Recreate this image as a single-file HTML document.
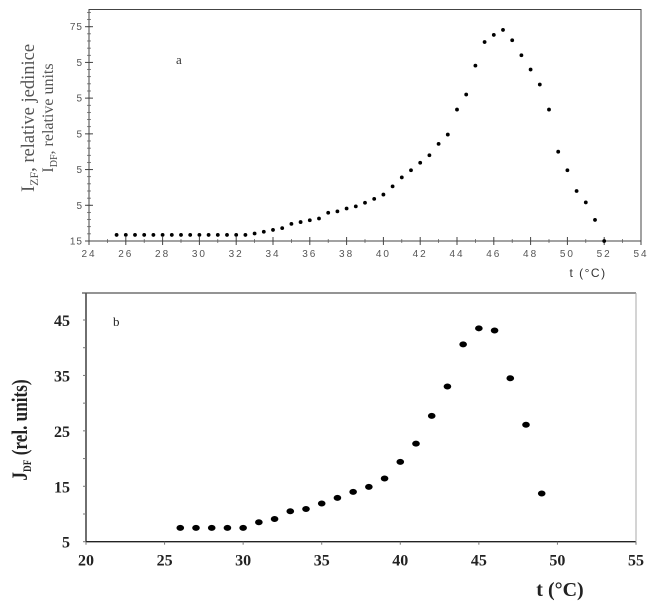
<!DOCTYPE html>
<html><head><meta charset="utf-8"><style>
html,body{margin:0;padding:0;background:#fff;width:650px;height:605px;overflow:hidden}
svg{display:block}
</style></head><body>
<svg id="chart" width="650" height="605" xmlns="http://www.w3.org/2000/svg">
<g id="top"></g>
<g id="bot"></g>
</svg>
<script>
// ---- Chart a data ----
const aTemps = [25.5,26,26.5,27,27.5,28,28.5,29,29.5,30,30.5,31,31.5,32,32.5,33,33.5,34,34.5,35,35.5,36,36.5,37,37.5,38,38.5,39,39.5,40,40.5,41,41.5,42,42.5,43,43.5,44,44.5,45,45.5,46,46.5,47,47.5,48,48.5,49,49.5,50,50.5,51,51.5,52];
const aValues = [16.7,16.7,16.7,16.7,16.7,16.7,16.7,16.7,16.7,16.7,16.7,16.7,16.7,16.7,16.7,17.1,17.6,18.1,18.6,19.8,20.3,20.8,21.3,22.9,23.3,24.1,24.7,25.7,26.8,28.0,30.3,32.8,34.8,36.9,39.0,42.2,44.8,51.8,56.0,64.1,70.7,72.7,74.1,71.2,67.0,63.0,58.8,51.8,40.0,34.8,29.0,25.8,20.9,15.0];
const aXTicks = [24,26,28,30,32,34,36,38,40,42,44,46,48,50,52,54];
const aYTicks = [15,25,35,45,55,65,75];
const aYLabels = ["15","5","5","5","5","5","75"];
// ---- Chart b data ----
const bTemps = [26,27,28,29,30,31,32,33,34,35,36,37,38,39,40,41,42,43,44,45,46,47,48,49];
const bValues = [7.5,7.5,7.5,7.5,7.5,8.5,9.1,10.5,10.9,11.9,12.9,14.0,14.9,16.4,19.4,22.7,27.7,33.0,40.6,43.5,43.1,34.5,26.1,13.7];
const bXTicks = [20,25,30,35,40,45,50,55];
const bYTicks = [5,15,25,35,45];

const NS = "http://www.w3.org/2000/svg";
function mk(parent, tag, attrs, text){
  const e = document.createElementNS(NS, tag);
  for (const k in attrs) e.setAttribute(k, attrs[k]);
  if (text !== undefined) e.textContent = text;
  parent.appendChild(e);
  return e;
}

// ---- Chart a ----
(function(){
  const g = document.getElementById('top');
  const x0=89, x1=641, y0=241, yTop=9.5;
  const ax = v => x0 + (v-24)/(54-24)*(x1-x0);
  const ay = v => y0 - (v-15)/(75-15)*(y0-26.7);
  let e = mk(g,'rect',{x:x0,y:yTop,width:x1-x0,height:y0-yTop,fill:'none',stroke:'#444','stroke-width':1});
  
  
  for (let v=15; v<=79; v+=2){
    const t = mk(g,'line',{x1:x0-2,x2:x0+2,y1:ay(v),y2:ay(v),stroke:'#555','stroke-width':0.7});
    
    
  }
  aYTicks.forEach((v,i)=>{
    const t = mk(g,'line',{x1:x0-4,x2:x0+4,y1:ay(v),y2:ay(v),stroke:'#444','stroke-width':1});
    
    
    const l = mk(g,'text',{x:x0-6,y:ay(v)+3.5,'text-anchor':'end','font-family':'Liberation Sans, sans-serif','font-size':10,fill:'#555','letter-spacing':'1'},aYLabels[i]);
    
    
  });
  for (let v=25; v<54; v+=2){
    const t = mk(g,'line',{x1:ax(v),x2:ax(v),y1:y0-2,y2:y0+2,stroke:'#555','stroke-width':0.7});
    
    
  }
  aXTicks.forEach(v=>{
    const t = mk(g,'line',{x1:ax(v),x2:ax(v),y1:y0-4,y2:y0+4,stroke:'#444','stroke-width':1});
    
    
    const l = mk(g,'text',{x:ax(v),y:y0+16,'text-anchor':'middle','font-family':'Liberation Sans, sans-serif','font-size':10,fill:'#555','letter-spacing':'2'},String(v));
    
    
  });
  aTemps.forEach((t,i)=>{
    const p = mk(g,'circle',{cx:ax(t),cy:ay(aValues[i]),r:1.9,fill:'#000'});
    
    
  });
  e = mk(g,'text',{x:588,y:277,'text-anchor':'middle','font-family':'Liberation Sans, sans-serif','font-size':12,fill:'#333','letter-spacing':'1.5'},'t (°C)');
  
  
  e = mk(g,'text',{x:176,y:64,'font-family':'Liberation Serif, serif','font-size':13,fill:'#333'},'a');
  
  
  const yt = mk(g,'text',{transform:'translate(34,118) rotate(-90)','text-anchor':'middle','font-family':'Liberation Serif, serif','font-size':18.5,fill:'#555'});
  
  
  yt.innerHTML = 'I<tspan font-size="12" dy="4">ZF</tspan><tspan dy="-4">, relative jedinice</tspan>';
  const yt2 = mk(g,'text',{transform:'translate(53,118) rotate(-90)','text-anchor':'middle','font-family':'Liberation Serif, serif','font-size':16,fill:'#555'});
  
  
  yt2.innerHTML = 'I<tspan font-size="10" dy="4">DF</tspan><tspan dy="-4">, relative units</tspan>';
})();

// ---- Chart b ----
(function(){
  const g = document.getElementById('bot');
  const x0=86, x1=636, y0=541.7, yTop=293;
  const bx = v => x0 + (v-20)/(55-20)*(x1-x0);
  const by = v => y0 - (v-5)/(45-5)*(y0-320);
  let e = mk(g,'line',{x1:x0,x2:x0,y1:yTop,y2:y0,stroke:'#222','stroke-width':1.3});
   
  e = mk(g,'line',{x1:x0,x2:x1,y1:y0,y2:y0,stroke:'#222','stroke-width':1.3});
   
  e = mk(g,'line',{x1:x0-4,x2:x1,y1:yTop,y2:yTop,stroke:'#555','stroke-width':1.2});
   
  e = mk(g,'line',{x1:x1,x2:x1,y1:yTop,y2:y0,stroke:'#aaa','stroke-width':1});
   
  for (let v=5; v<=45; v+=5){
    const t = mk(g,'line',{x1:x0-3,x2:x0,y1:by(v),y2:by(v),stroke:'#777','stroke-width':1});
    
    
  }
  bYTicks.forEach(v=>{
    const l = mk(g,'text',{x:x0-16,y:by(v)+6,'text-anchor':'end','font-family':'Liberation Serif, serif','font-size':16,'font-weight':'bold',fill:'#222'},String(v));
    
    
  });
  bXTicks.forEach(v=>{
    const t = mk(g,'line',{x1:bx(v),x2:bx(v),y1:y0,y2:y0+3,stroke:'#777','stroke-width':1});
    
    
    const l = mk(g,'text',{x:bx(v),y:y0+24,'text-anchor':'middle','font-family':'Liberation Serif, serif','font-size':16,'font-weight':'bold',fill:'#222'},String(v));
    
    
  });
  bTemps.forEach((t,i)=>{
    const p = mk(g,'ellipse',{cx:bx(t),cy:by(bValues[i]),rx:3.8,ry:3,fill:'#000'});
    
    
  });
  e = mk(g,'text',{x:560,y:596,'text-anchor':'middle','font-family':'Liberation Serif, serif','font-size':20,'font-weight':'bold',fill:'#222'},'t (°C)');
  
  
  e = mk(g,'text',{x:113,y:326,'font-family':'Liberation Serif, serif','font-size':13,fill:'#222'},'b');
  
  
  const yt = mk(g,'text',{transform:'translate(27,430) rotate(-90) scale(0.78,1)','text-anchor':'middle','font-family':'Liberation Serif, serif','font-size':22,'font-weight':'bold',fill:'#222'});
  
  
  yt.innerHTML = 'J<tspan font-size="12" dy="4">DF</tspan><tspan dy="-4"> (rel. units)</tspan>';
})();
</script>
</body></html>
